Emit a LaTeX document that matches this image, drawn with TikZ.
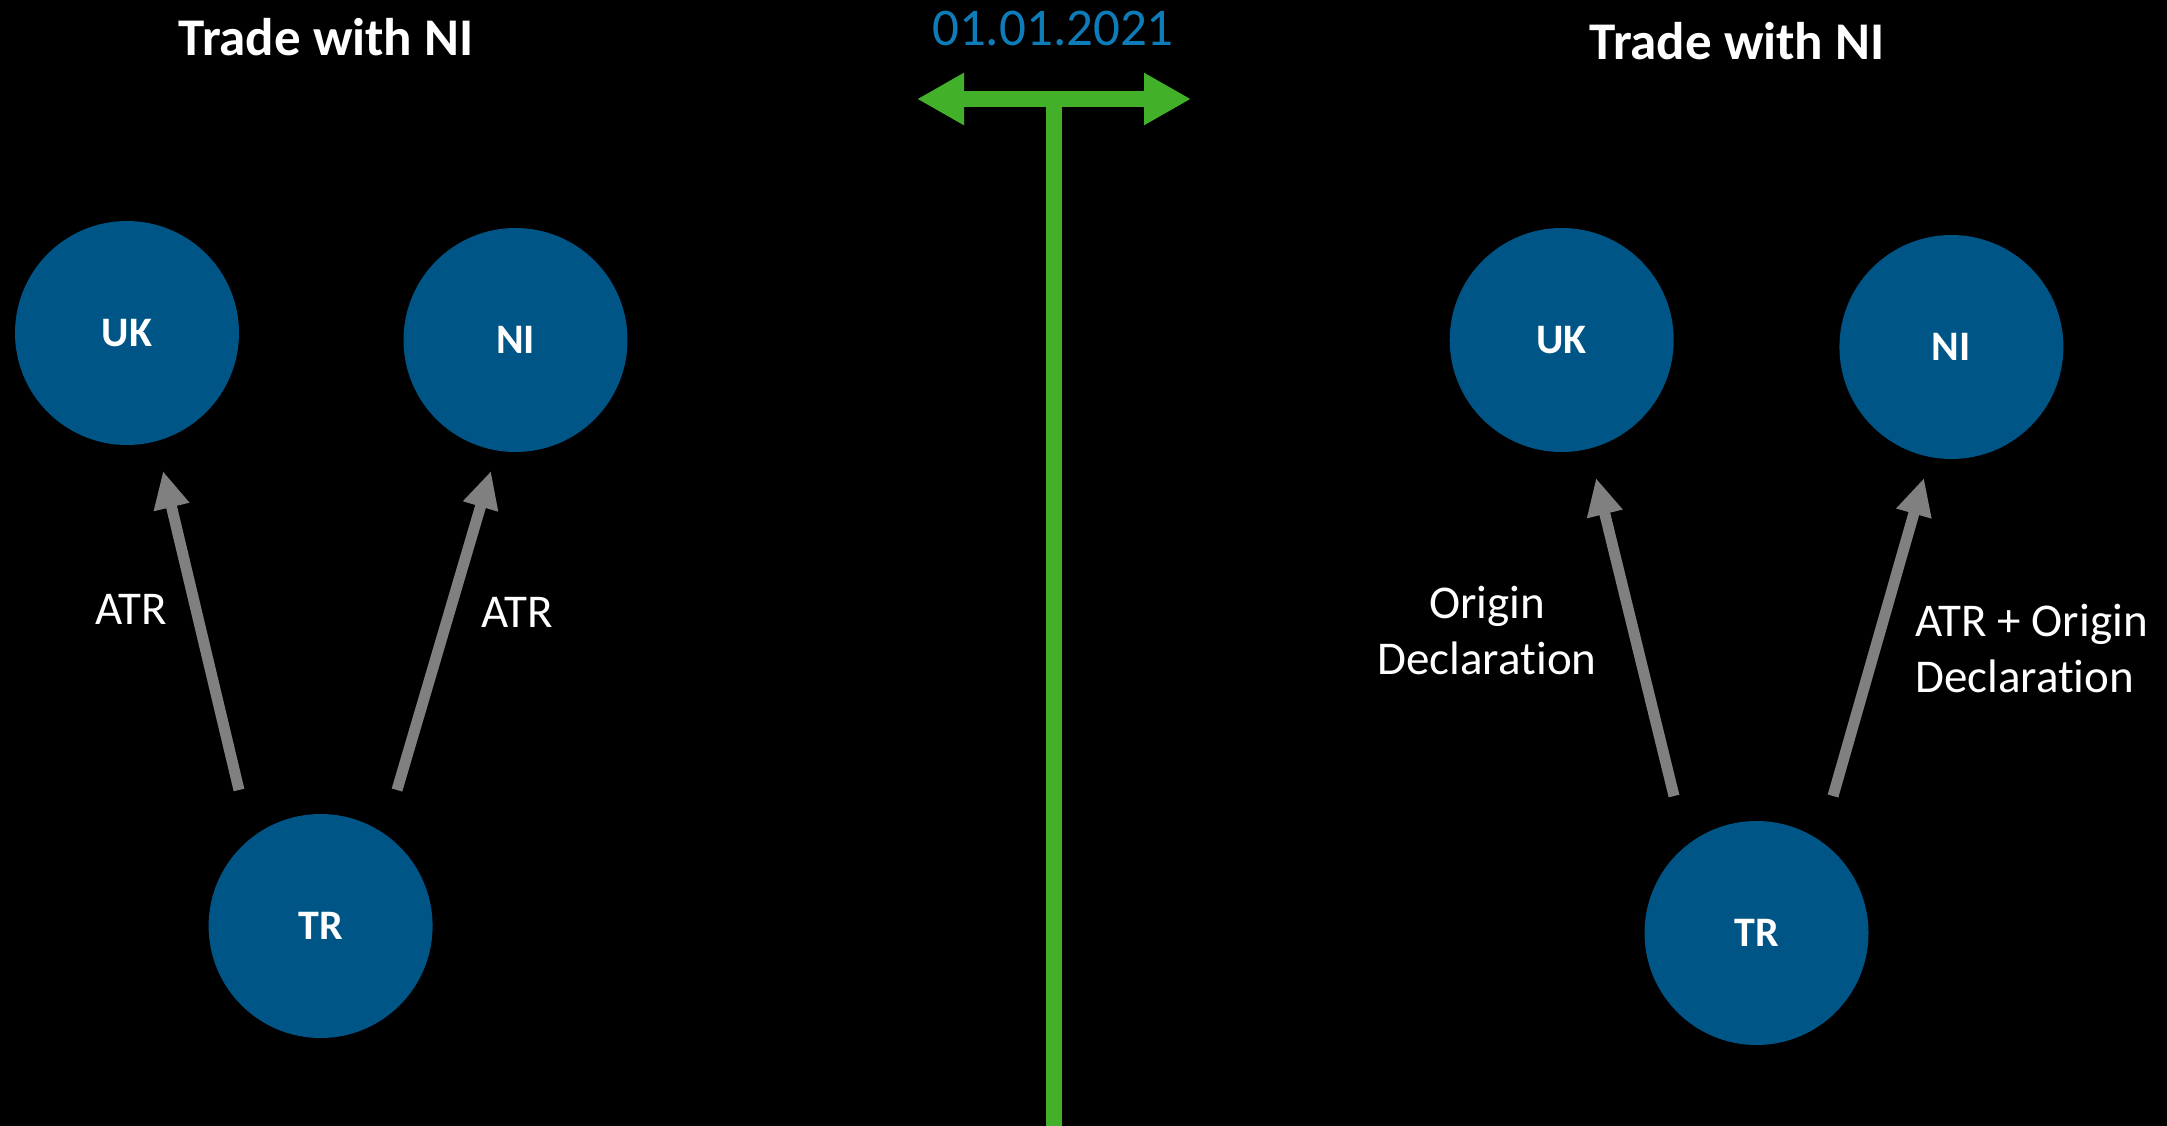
\documentclass[tikz,border=0pt]{standalone}
\usepackage{fontspec}
\setmainfont{Carlito}[Ligatures=NoCommon]
\usetikzlibrary{arrows.meta}
\definecolor{nodeblue}{RGB}{0,85,135}
\definecolor{dategreen}{RGB}{67,176,42}
\definecolor{dateblue}{RGB}{14,124,184}
\definecolor{arrowgray}{RGB}{128,128,128}
\tikzset{
  country/.style={circle, fill=nodeblue, minimum size=224pt, inner sep=0pt, text=white, font=\bfseries\fontsize{42}{50}\selectfont},
  flow/.style={draw=arrowgray, line width=11pt, -{Triangle[length=37pt,width=34pt]}},
  lbl/.style={text=white, font=\fontsize{47}{56}\selectfont, inner sep=0pt},
  title/.style={text=white, font=\bfseries\fontsize{53}{60}\selectfont, inner sep=0pt},
}
\begin{document}
\begin{tikzpicture}[x=1pt,y=-1pt]
\fill[black] (0,0) rectangle (2167,1126);
\useasboundingbox (0,0) rectangle (2167,1126);
% titles
\node[title] (t1) at (326,37) {Trade with NI};
\node[title] (t2) at (1737,41) {Trade with NI};
\node[text=dateblue, font=\fontsize{53}{60}\selectfont, inner sep=0pt] (date) at (1053,29) {01.01.2021};
% green T
\coordinate (stemtop) at (1053.7,99);
\coordinate (stembot) at (1053.7,1130);
\coordinate (barL) at (917,99);
\coordinate (barR) at (1191,99);
\draw[dategreen, line width=16pt] (stemtop) -- (stembot);
\draw[dategreen, line width=16pt, {Triangle[length=47pt,width=49pt]}-{Triangle[length=47pt,width=49pt]}] (barL) -- (barR);
% left circles
\node[country] (uk1) at (127,333) {UK};
\node[country] (ni1) at (515.5,340) {NI};
\node[country] (tr1) at (320.6,926) {TR};
% right circles
\node[country] (uk2) at (1561.7,340) {UK};
\node[country] (ni2) at (1951.4,347) {NI};
\node[country] (tr2) at (1756.5,933) {TR};
% arrow end points
\coordinate (a1s) at (239,790);
\coordinate (a1e) at (163,471);
\coordinate (a2s) at (397,790);
\coordinate (a2e) at (491,471);
\coordinate (b1s) at (1674,796);
\coordinate (b1e) at (1596,478);
\coordinate (b2s) at (1833,796);
\coordinate (b2e) at (1924,478);
\draw[flow] (a1s) -- (a1e);
\draw[flow] (a2s) -- (a2e);
\draw[flow] (b1s) -- (b1e);
\draw[flow] (b2s) -- (b2e);
% labels
\node[lbl] (l1) at (131,609) {ATR};
\node[lbl] (l2) at (517,612) {ATR};
\node[lbl, align=center] (l3) at (1487,630) {Origin\\Declaration};
\node[lbl, align=left, anchor=west] (l4) at (1915,648) {ATR + Origin\\Declaration};
\end{tikzpicture}
\end{document}
